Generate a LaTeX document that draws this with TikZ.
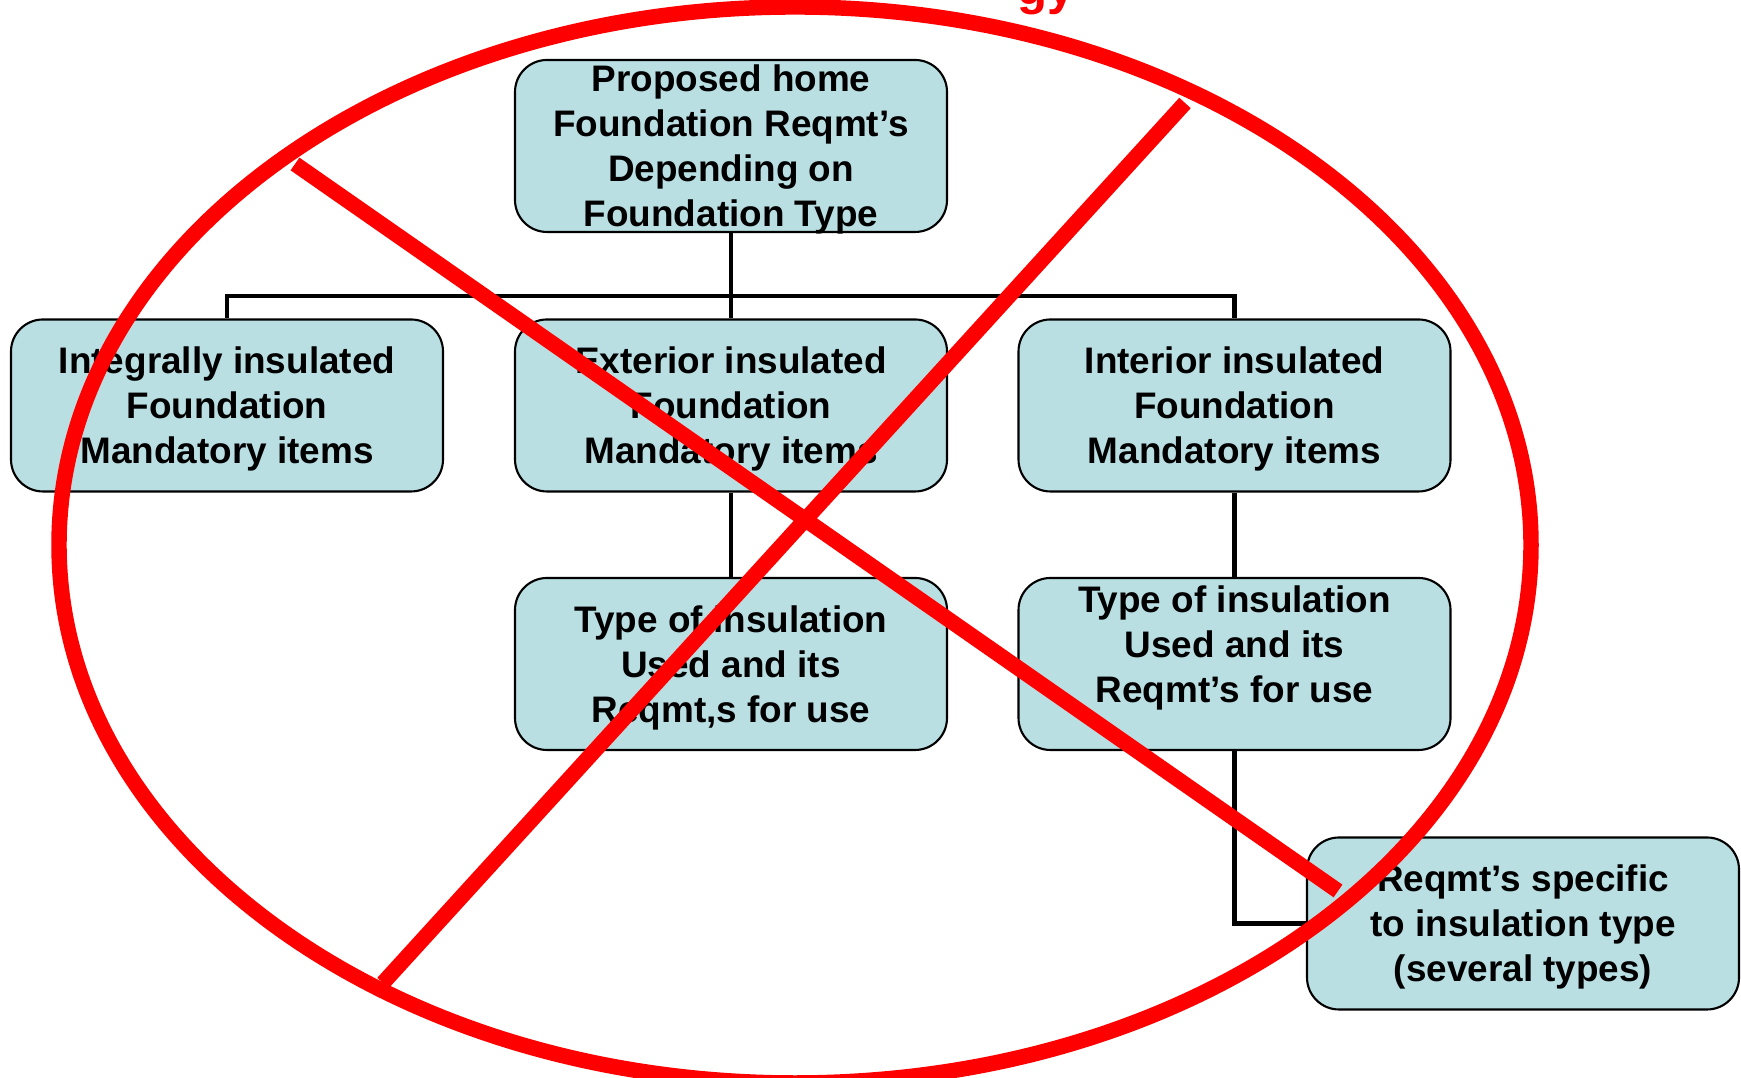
\documentclass[tikz,border=0pt]{standalone}
\usepackage{fontspec}
\setmainfont{Liberation Sans}
\usepackage{tikz}
\usetikzlibrary{positioning, calc}

\definecolor{boxfill}{RGB}{185,223,227}
\definecolor{crossred}{RGB}{255,0,0}

\begin{document}
\begin{tikzpicture}[
    box/.style={draw=black, line width=0.6pt, fill=boxfill, rounded corners=0.32cm,
        minimum width=4.32cm, minimum height=1.72cm, inner sep=0pt, align=center,
        text depth=0pt, font=\fontsize{10.5}{12.8}\selectfont\bfseries},
    conn/.style={draw=black, line width=1.3pt},
    cross/.style={draw=crossred, line width=4.4pt}
    ]
        \useasboundingbox (0,0) rectangle (17.41,10.78);

        % heading, only its lower edge shows
        \node[anchor=base west, text=crossred, font=\fontsize{14}{16}\selectfont\bfseries] (heading) at (10.05,10.735) {gy};

        % boxes
        \node[box] (home) at (7.31,9.32) {Proposed home\\Foundation Reqmt’s\\Depending on\\Foundation Type};
        \node[box] (integral) at (2.27,6.725) {Integrally insulated\\Foundation\\Mandatory items};
        \node[box] (exterior) at (7.31,6.725) {Exterior insulated\\Foundation\\Mandatory items};
        \node[box] (interior) at (12.345,6.725) {Interior insulated\\Foundation\\Mandatory items};
        \node[box] (extype) at (7.31,4.14) {Type of insulation\\Used and its\\Reqmt,s for use};
        \node[box, text depth=0.40cm] (intype) at (12.345,4.14) {Type of insulation\\Used and its\\Reqmt’s for use};
        \node[box] (specific) at (15.23,1.545) {Reqmt’s specific\\to insulation type\\(several types)};

        % tree lines
        \coordinate (bus) at (7.31,7.82);
        \draw[conn] (home.south) -- (bus);
        \draw[conn] (integral.north) |- (bus) -| (interior.north);
        \draw[conn] (exterior.north) -- (bus);
        \draw[conn] (exterior.south) -- (extype.north);
        \draw[conn] (interior.south) -- (intype.north);
        \draw[conn] (intype.south) |- (specific.west);

        % red ring and cross over it all
        \coordinate (O) at (7.95,5.33);
        \draw[cross] (O) ellipse [x radius=7.36, y radius=5.38];
        \coordinate (P1) at (2.95,9.14);
        \coordinate (P2) at (13.38,1.87);
        \coordinate (Q1) at (11.85,9.75);
        \coordinate (Q2) at (3.83,0.95);
        \draw[cross] (P1) -- (P2);
        \draw[cross] (Q1) -- (Q2);
    \end{tikzpicture}
\end{document}
